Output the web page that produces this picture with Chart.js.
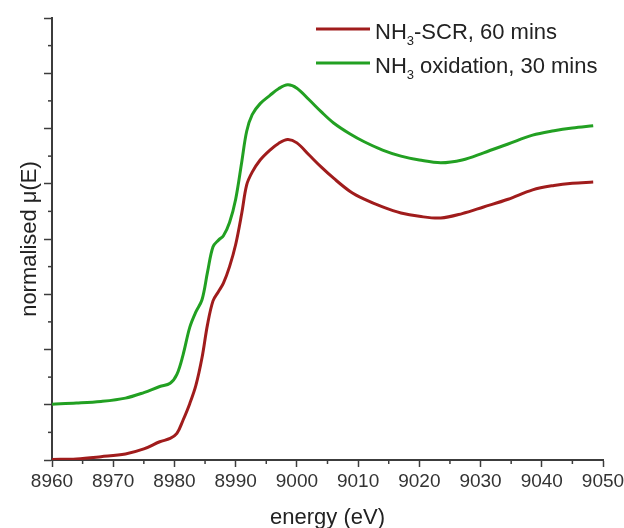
<!DOCTYPE html>
<html>
<head>
<meta charset="utf-8">
<script src="https://cdn.jsdelivr.net/npm/chart.js@4.4.1/dist/chart.umd.min.js"></script>
<style>
  html, body { margin: 0; padding: 0; background: #fff; }
  #wrap { width: 624px; height: 528px; }
</style>
</head>
<body>
<div id="wrap"><canvas id="grafico" width="624" height="528"></canvas></div>
<script>
// energía (eV) y las dos curvas
const energia = [8960, 8964, 8968, 8972, 8975, 8977.6, 8979.3, 8980.4, 8981.4, 8982.5, 8983.5, 8984.5,
  8985.4, 8986.3, 8987.2, 8988, 8989, 8990, 8991, 8991.8, 8992.7, 8994, 8995.6, 8997, 8998.5, 9000,
  9002, 9004, 9006, 9008.7, 9011, 9014, 9017, 9020, 9023.5, 9027, 9030.5, 9034.5, 9038.5, 9042, 9045, 9048.4];
const scr60 = [0.01, 0.02, 0.06, 0.11, 0.2, 0.33, 0.39, 0.48, 0.72, 1.02, 1.35, 1.85,
  2.45, 2.88, 3.05, 3.2, 3.5, 3.9, 4.47, 4.98, 5.21, 5.43, 5.61, 5.73, 5.8, 5.74,
  5.52, 5.3, 5.1, 4.86, 4.72, 4.58, 4.47, 4.41, 4.38, 4.46, 4.58, 4.72, 4.89, 4.97, 5.01, 5.03];
const oxid30 = [1.01, 1.03, 1.06, 1.12, 1.22, 1.33, 1.39, 1.55, 1.9, 2.4, 2.68, 2.9,
  3.4, 3.86, 3.98, 4.06, 4.3, 4.72, 5.4, 5.95, 6.25, 6.45, 6.6, 6.72, 6.79, 6.73,
  6.52, 6.3, 6.1, 5.9, 5.76, 5.61, 5.5, 5.43, 5.38, 5.43, 5.56, 5.72, 5.88, 5.96, 6.01, 6.05];
const etiquetas = ["NH₃-SCR, 60 mins", "NH₃ oxidation, 30 mins"];
const colores = ["#a01c1c", "#22a022"];

const FUENTE = "'Liberation Sans', Arial, sans-serif";
const EJE = "#3c3c3c";

// leyenda propia (para poder dibujar el subíndice)
const leyenda = {
  id: "leyenda",
  afterDraw(chart) {
    const ctx = chart.ctx;
    chart.data.datasets.forEach((ds, i) => {
      const y = 29 + i * 34;
      ctx.save();
      ctx.strokeStyle = ds.borderColor;
      ctx.lineWidth = 3;
      ctx.beginPath();
      ctx.moveTo(316, y);
      ctx.lineTo(370, y);
      ctx.stroke();
      const [antes, despues] = ds.label.split("₃");
      ctx.fillStyle = "#222";
      ctx.textBaseline = "alphabetic";
      let x = 375;
      ctx.font = "22px " + FUENTE;
      ctx.fillText(antes, x, y + 10);
      x += ctx.measureText(antes).width;
      ctx.font = "13px " + FUENTE;
      ctx.fillText("3", x, y + 16);
      x += ctx.measureText("3").width;
      ctx.font = "22px " + FUENTE;
      ctx.fillText(despues, x, y + 10);
      ctx.restore();
    });
  }
};

// marcas menores entre las mayores
const marcasMenores = {
  id: "marcasMenores",
  afterDraw(chart) {
    const { ctx, chartArea, scales: { x, y } } = chart;
    ctx.save();
    ctx.strokeStyle = EJE;
    ctx.lineWidth = 1.5;
    for (let i = 0; i < x.ticks.length - 1; i++) {
      const px = x.getPixelForValue((x.ticks[i].value + x.ticks[i + 1].value) / 2);
      ctx.beginPath();
      ctx.moveTo(px, chartArea.bottom);
      ctx.lineTo(px, chartArea.bottom + 4);
      ctx.stroke();
    }
    for (let i = 0; i < y.ticks.length - 1; i++) {
      const py = y.getPixelForValue((y.ticks[i].value + y.ticks[i + 1].value) / 2);
      ctx.beginPath();
      ctx.moveTo(chartArea.left, py);
      ctx.lineTo(chartArea.left - 4, py);
      ctx.stroke();
    }
    ctx.restore();
  }
};

const ctx = document.getElementById("grafico").getContext("2d");
new Chart(ctx, {
  type: "line",
  data: {
    datasets: [
      { label: etiquetas[0], data: energia.map((e, i) => ({ x: e, y: scr60[i] })), borderColor: colores[0] },
      { label: etiquetas[1], data: energia.map((e, i) => ({ x: e, y: oxid30[i] })), borderColor: colores[1] }
    ]
  },
  options: {
    responsive: false,
    animation: false,
    devicePixelRatio: 1,
    layout: { padding: { top: 18, right: 21, left: 0, bottom: 0 } },
    elements: {
      point: { radius: 0 },
      line: { borderWidth: 3, tension: 0.35, fill: false }
    },
    plugins: { legend: { display: false }, tooltip: { enabled: false } },
    scales: {
      x: {
        type: "linear",
        min: 8960,
        max: 9050,
        afterFit: s => { s.height = 68; s.paddingRight = 0; s.paddingLeft = 0; },
        ticks: { stepSize: 10, color: "#333", font: { family: FUENTE, size: 19 }, padding: 3, maxRotation: 0, callback: v => String(v) },
        grid: { drawOnChartArea: false, tickLength: 7, tickColor: EJE, tickWidth: 1.5 },
        border: { color: EJE, width: 2 },
        title: { display: true, text: "energy (eV)", color: "#222", font: { family: FUENTE, size: 22, lineHeight: 0.9 }, padding: { top: 0, bottom: 0 } }
      },
      y: {
        type: "linear",
        min: 0,
        max: 8,
        afterFit: s => { s.width = 52; },
        ticks: { stepSize: 1, callback: () => "" },
        grid: { drawOnChartArea: false, tickLength: 8, tickColor: EJE, tickWidth: 1.5 },
        border: { color: EJE, width: 2 },
        title: { display: true, text: "normalised μ(E)", color: "#222", font: { family: FUENTE, size: 22, lineHeight: 0.9 }, padding: { top: 20, bottom: 0 } }
      }
    }
  },
  plugins: [leyenda, marcasMenores]
});
</script>
</body>
</html>
